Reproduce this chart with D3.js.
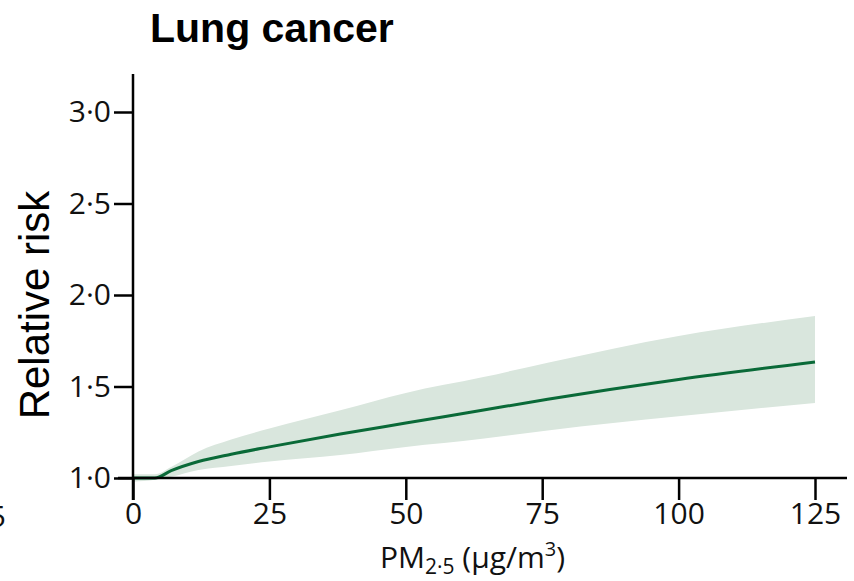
<!DOCTYPE html>
<html>
<head>
<meta charset="utf-8">
<script src="https://cdn.jsdelivr.net/npm/d3@7"></script>
<style>
  html, body { margin: 0; padding: 0; background: #fff; }
  svg { display: block; }
</style>
</head>
<body>
<svg id="chart" width="854" height="581"></svg>
<script>
// ---- data ----
const pm    = [0,    4,    7,     12,    18,    25,    38,    50,    64,    76,    100,   125];
const rr    = [1.0,  1.0,  1.04,  1.09,  1.13,  1.17,  1.24,  1.30,  1.37,  1.43,  1.538, 1.634];
const upper = [1.02, 1.02, 1.06,  1.145, 1.21,  1.27,  1.37,  1.465, 1.55,  1.63,  1.776, 1.885];
const lower = [0.98, 0.99, 1.007, 1.044, 1.066, 1.09,  1.126, 1.17,  1.215, 1.26,  1.337, 1.41];
const xTicks = [0, 25, 50, 75, 100, 125];
const yTicks = [1.0, 1.5, 2.0, 2.5, 3.0];
const title = "Lung cancer";
const yTitle = "Relative risk";

const svg = d3.select("#chart");
const x = d3.scaleLinear().domain([0, 125]).range([133, 815]);
const y = d3.scaleLinear().domain([1.0, 3.0]).range([478, 112]);

const rows = pm.map((d, i) => ({ x: d, y: rr[i], lo: lower[i], hi: upper[i] }));

// band
svg.append("path")
  .datum(rows)
  .attr("fill", "#d9e6dd")
  .attr("d", d3.area().curve(d3.curveMonotoneX).x(d => x(d.x)).y0(d => y(d.lo)).y1(d => y(d.hi)));

// line
svg.append("path")
  .datum(rows)
  .attr("fill", "none")
  .attr("stroke", "#0a6a38")
  .attr("stroke-width", 3)
  .attr("d", d3.line().curve(d3.curveMonotoneX).x(d => x(d.x)).y(d => y(d.y)));

const tickFont = "'Open Sans', sans-serif";

// x axis
const gx = svg.append("g").attr("transform", `translate(0,${y(1.0)})`)
  .call(d3.axisBottom(x).tickValues(xTicks).tickFormat(d3.format("d")).tickSize(22).tickPadding(3));
gx.select(".domain").remove();
gx.selectAll(".tick line").attr("stroke", "#000").attr("stroke-width", 2.5);
gx.selectAll(".tick text").attr("fill", "#111").style("font-family", tickFont).style("font-size", "30px");
svg.append("line").attr("x1", 118).attr("x2", 847).attr("y1", y(1.0)).attr("y2", y(1.0))
  .attr("stroke", "#000").attr("stroke-width", 2.5);

// y axis
const gy = svg.append("g").attr("transform", `translate(${x(0)},0)`)
  .call(d3.axisLeft(y).tickValues(yTicks).tickFormat(d => d3.format(".1f")(d).replace(".", "·")).tickSize(19).tickPadding(3));
gy.select(".domain").remove();
gy.selectAll(".tick line").attr("stroke", "#000").attr("stroke-width", 2.5);
gy.selectAll(".tick text").attr("fill", "#111").style("font-family", tickFont).style("font-size", "30px");
svg.append("line").attr("x1", x(0)).attr("x2", x(0)).attr("y1", 74).attr("y2", 500)
  .attr("stroke", "#000").attr("stroke-width", 2.5);

// title
svg.append("text").attr("x", 150).attr("y", 42)
  .style("font-family", "'Liberation Sans', Arial, sans-serif").style("font-weight", "bold").style("font-size", "41px")
  .text(title);

// y title
svg.append("text").attr("transform", "translate(49,305) rotate(-90)").attr("text-anchor", "middle")
  .style("font-family", "'Liberation Sans', Arial, sans-serif").style("font-size", "42px")
  .text(yTitle);

// x title
const xt = svg.append("text").attr("x", 380).attr("y", 568)
  .style("font-family", tickFont).style("font-size", "30px").attr("fill", "#111");
xt.append("tspan").text("PM");
xt.append("tspan").attr("dy", 6).style("font-size", "21px").text("2·5");
xt.append("tspan").attr("dy", -6).text(" (µg/m");
xt.append("tspan").attr("dy", -12).style("font-size", "20px").text("3");
xt.append("tspan").attr("dy", 12).text(")");

// fragment of neighbouring panel's tick label at the left edge
svg.append("text").attr("x", 6).attr("y", 527).attr("text-anchor", "end")
  .style("font-family", tickFont).style("font-size", "30px").attr("fill", "#111").text("125");
</script>
</body>
</html>
